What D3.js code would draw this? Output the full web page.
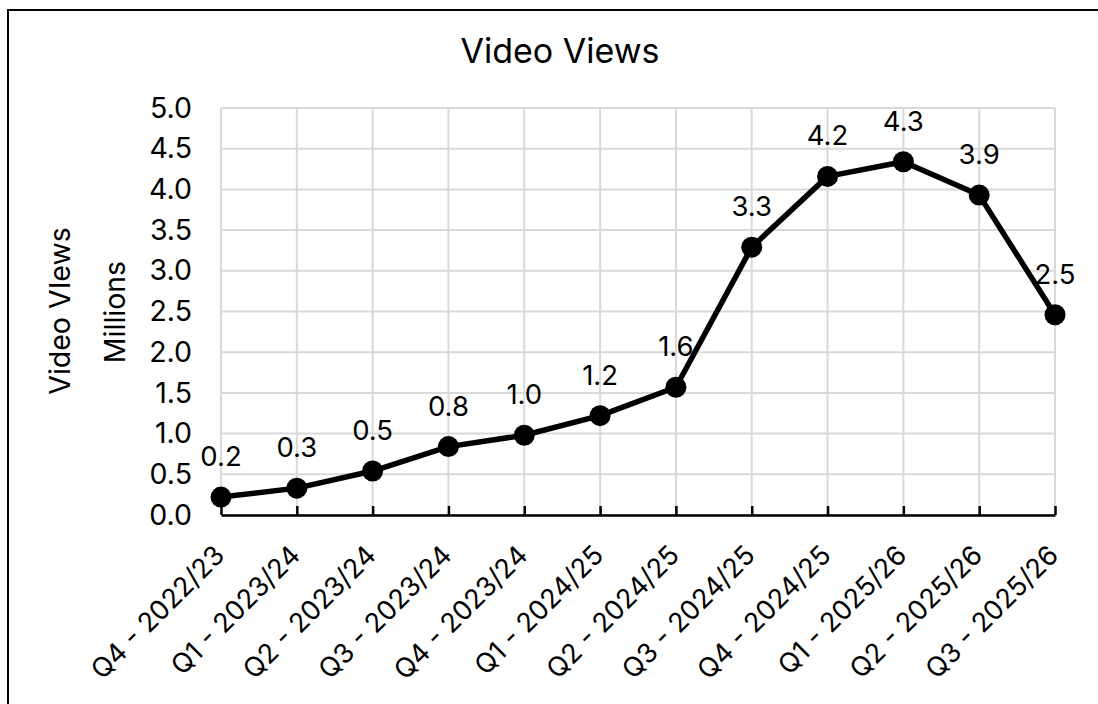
<!DOCTYPE html>
<html>
<head>
<meta charset="utf-8">
<script src="https://cdn.jsdelivr.net/npm/d3@7"></script>
<style>
  html, body { margin: 0; padding: 0; background: #fff; overflow: hidden; }
  svg { display: block; }
  svg text { font-family: Inter, "Noto Sans", sans-serif; fill: #000; }
</style>
</head>
<body>
<svg id="chart" width="1098" height="704"></svg>
<script>
// Quarterly video views, in millions
const categories = [
  "Q4 - 2022/23", "Q1 - 2023/24", "Q2 - 2023/24", "Q3 - 2023/24",
  "Q4 - 2023/24", "Q1 - 2024/25", "Q2 - 2024/25", "Q3 - 2024/25",
  "Q4 - 2024/25", "Q1 - 2025/26", "Q2 - 2025/26", "Q3 - 2025/26"
];
const views = [0.22, 0.33, 0.54, 0.84, 0.98, 1.22, 1.57, 3.29, 4.16, 4.34, 3.93, 2.46];
const yTicks = [0, 0.5, 1, 1.5, 2, 2.5, 3, 3.5, 4, 4.5, 5];

const svg = d3.select("#chart");

// outer chart frame (left and top edges fall inside the page)
svg.append("path")
  .attr("d", "M8,704 L8,10 L1098,10")
  .attr("fill", "none").attr("stroke", "#000").attr("stroke-width", 2);

const plot = { left: 221, right: 1055, top: 108, bottom: 515 };

const x = d3.scalePoint().domain(categories).range([plot.left, plot.right]);
const y = d3.scaleLinear().domain([0, 5]).range([plot.bottom, plot.top]);

// title
svg.append("text")
  .attr("x", 560).attr("y", 63)
  .attr("text-anchor", "middle")
  .attr("font-size", 34)
  .text("Video Views");

// horizontal gridlines
svg.append("g").selectAll("line").data(yTicks).join("line")
  .attr("x1", plot.left).attr("x2", plot.right)
  .attr("y1", d => y(d)).attr("y2", d => y(d))
  .attr("stroke", "#d9d9d9").attr("stroke-width", 2);

// vertical gridlines
svg.append("g").selectAll("line").data(categories).join("line")
  .attr("x1", d => x(d)).attr("x2", d => x(d))
  .attr("y1", plot.top).attr("y2", plot.bottom)
  .attr("stroke", "#d9d9d9").attr("stroke-width", 2);

// y axis labels
const yAxis = d3.axisLeft(y).tickValues(yTicks).tickFormat(d3.format(".1f")).tickSize(0).tickPadding(29);
const gy = svg.append("g").attr("transform", `translate(${plot.left},0)`).call(yAxis);
gy.select(".domain").remove();
gy.attr("font-size", 28.5);
gy.selectAll("text").attr("fill", "#000");

// x axis: baseline with inward ticks
const xAxis = d3.axisTop(x).tickSize(9).tickSizeOuter(0).tickFormat("");
const gx = svg.append("g").attr("transform", `translate(0,${plot.bottom})`).call(xAxis);
gx.select(".domain").attr("stroke", "#000").attr("stroke-width", 2.5);
gx.selectAll(".tick line").attr("stroke", "#000").attr("stroke-width", 2.5);

// rotated category labels, anchored at their baseline end
svg.append("g").selectAll("text").data(categories).join("text")
  .attr("transform", d => `translate(${x(d) + 5},${plot.bottom + 42}) rotate(-45)`)
  .attr("text-anchor", "end")
  .attr("font-size", 27)
  .text(d => d);

// axis titles
svg.append("text")
  .attr("transform", "translate(60,311) rotate(-90)")
  .attr("text-anchor", "middle").attr("dy", "0.36em")
  .attr("font-size", 28.5)
  .text("Video VIews");
svg.append("text")
  .attr("transform", "translate(115,312) rotate(-90)")
  .attr("text-anchor", "middle").attr("dy", "0.36em")
  .attr("font-size", 28.5)
  .text("Millions");

// series line
const line = d3.line().x((d, i) => x(categories[i])).y(d => y(d));
svg.append("path")
  .datum(views)
  .attr("d", line)
  .attr("fill", "none")
  .attr("stroke", "#000")
  .attr("stroke-width", 5.5)
  .attr("stroke-linejoin", "round");

// markers
svg.append("g").selectAll("circle").data(views).join("circle")
  .attr("cx", (d, i) => x(categories[i]))
  .attr("cy", d => y(d))
  .attr("r", 10.5)
  .attr("fill", "#000");

// data labels
svg.append("g").selectAll("text").data(views).join("text")
  .attr("x", (d, i) => x(categories[i]))
  .attr("y", d => y(d) - 31)
  .attr("text-anchor", "middle")
  .attr("font-size", 27.5)
  .text(d => d3.format(".1f")(d));
</script>
</body>
</html>
